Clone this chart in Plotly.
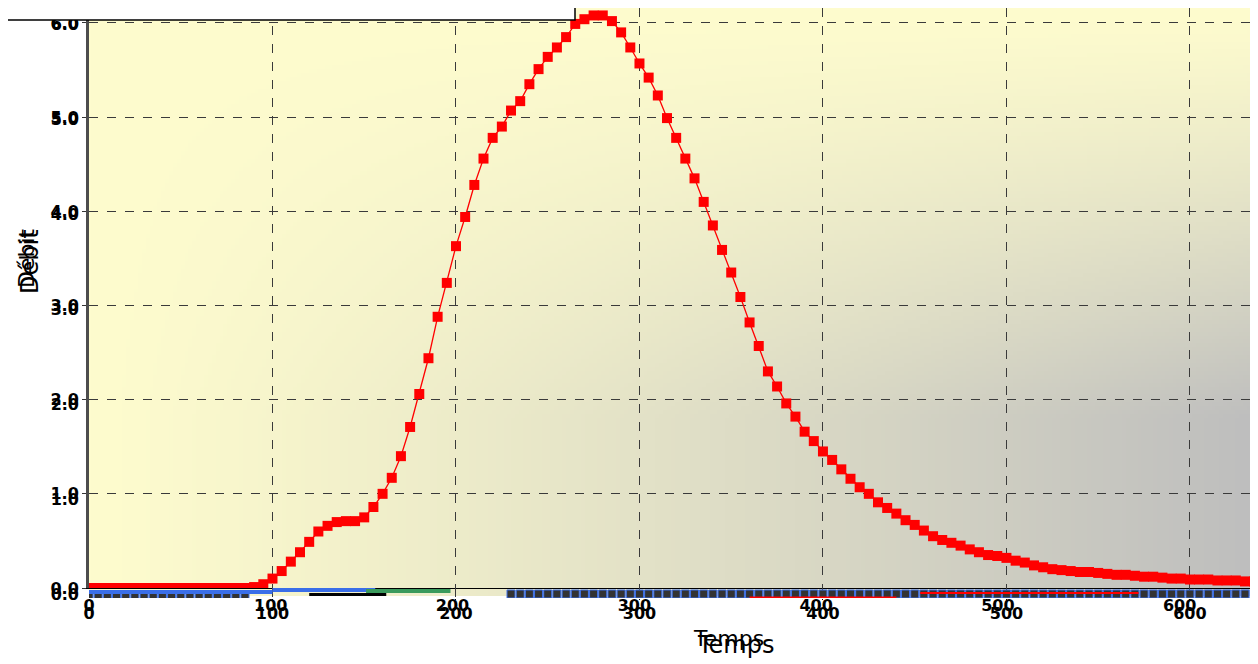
import base64, struct, zlib
import numpy as np
import plotly.graph_objects as go

# ---------------- data ----------------
temps = list(range(0, 640, 5))
debit = [0.0]*18 + [
    0.01, 0.04, 0.10, 0.18, 0.28, 0.38, 0.49, 0.60, 0.66, 0.70,
    0.71, 0.71, 0.75, 0.86, 1.00, 1.17, 1.40, 1.71, 2.06, 2.44,
    2.88, 3.24, 3.63, 3.94, 4.28, 4.56, 4.78, 4.90, 5.07, 5.17,
    5.35, 5.51, 5.64, 5.74, 5.85, 5.99, 6.04, 6.08, 6.08, 6.02,
    5.90, 5.74, 5.57, 5.42, 5.23, 4.99, 4.78, 4.56, 4.35, 4.10,
    3.85, 3.59, 3.35, 3.09, 2.82, 2.57, 2.30, 2.14, 1.96, 1.82,
    1.66, 1.56, 1.45, 1.36, 1.26, 1.16, 1.07, 1.00, 0.91, 0.85,
    0.79, 0.72, 0.67, 0.61, 0.55, 0.51, 0.48, 0.45, 0.41, 0.38,
    0.35, 0.34, 0.32, 0.29, 0.27, 0.24, 0.22, 0.20, 0.19, 0.18,
    0.17, 0.17, 0.16, 0.15, 0.14, 0.14, 0.13, 0.12, 0.12, 0.11,
    0.10, 0.10, 0.09, 0.09, 0.09, 0.08, 0.08, 0.08, 0.07, 0.07,
]
x_ticks = [0, 100, 200, 300, 400, 500, 600]
y_ticks = [0, 1, 2, 3, 4, 5, 6]

# clutter strip below the x axis (squashed series)
strip_sq_t = list(range(0, 90, 5)) + [None] + list(range(230, 640, 5))
strip_sq_v = [3]*18 + [None] + [4]*82
blue_t = [0, 100, None, 100, 156]
blue_v = [6, 6, None, 8, 8]
green_t = [151, 197]
green_v = [7, 7]
black_t = [120, 162]
black_v = [3.5, 3.5]
red_t = [360, 440, None, 453, 572]
red_v = [0.5, 0.5, None, 5, 5]

# ---------------- layout geometry ----------------
# the page adds an 8px body margin; all reference pixel positions are shifted by it
OFF = 8
W, H = 1258 - OFF, 664 - OFF
ML, MR, MT, MB = 89 - OFF, 2, 0, 56
PW, PH = W - ML - MR, H - MT - MB
def py(ref_pix):  # reference pixel y -> paper y
    return (H - MB - (ref_pix - OFF)) / PH
def px(ref_pix):
    return (ref_pix - OFF - ML) / PW

Y_PX = 94.17           # px per unit, main axis
y_top = (588 - OFF) / Y_PX
# duplicated label axis: 0 at ref y=594, 6 at ref y=24, domain ref 600..8
y3_min = -6 / 95
y3_max = (594 - OFF) / 95

# ---------------- background gradient ----------------
gw, gh = 300, 150
X, Y = np.meshgrid(np.linspace(0, 1, gw), np.linspace(0, 1, gh))
t = np.clip(X**1.15 * np.clip(Y / 0.7, 0, 1)**1.2, 0, 1)
c0 = np.array([254, 252, 206.0]); c1 = np.array([190, 190, 190.0])
img = (c0 * (1 - t)[..., None] + c1 * t[..., None]).astype(np.uint8)
raw = b"".join(b"\x00" + row.tobytes() for row in img)
def chunk(tag, data):
    return struct.pack(">I", len(data)) + tag + data + struct.pack(">I", zlib.crc32(tag + data) & 0xffffffff)
png = b"\x89PNG\r\n\x1a\n" + chunk(b"IHDR", struct.pack(">IIBBBBB", gw, gh, 8, 2, 0, 0, 0)) \
      + chunk(b"IDAT", zlib.compress(raw, 9)) + chunk(b"IEND", b"")
uri = "data:image/png;base64," + base64.b64encode(png).decode()

fig = go.Figure()
fig.add_trace(go.Scatter(x=temps, y=debit, mode="lines+markers",
                         line=dict(color="#ff0000", width=1.3),
                         marker=dict(symbol="square", size=10, color="#ff0000"),
                         showlegend=False, hoverinfo="x+y"))
# strip traces
fig.add_trace(go.Scatter(x=strip_sq_t, y=strip_sq_v, xaxis="x2", yaxis="y2", mode="markers",
                         marker=dict(symbol="square", size=8, color="#333333",
                                     line=dict(color="#3a6ee8", width=1)),
                         showlegend=False, hoverinfo="skip"))
fig.add_trace(go.Scatter(x=blue_t, y=blue_v, xaxis="x2", yaxis="y2", mode="lines",
                         line=dict(color="#3a6ee8", width=4), showlegend=False, hoverinfo="skip"))
fig.add_trace(go.Scatter(x=green_t, y=green_v, xaxis="x2", yaxis="y2", mode="lines",
                         line=dict(color="#3a9a5c", width=4), showlegend=False, hoverinfo="skip"))
fig.add_trace(go.Scatter(x=black_t, y=black_v, xaxis="x2", yaxis="y2", mode="lines",
                         line=dict(color="#000000", width=3), showlegend=False, hoverinfo="skip"))
fig.add_trace(go.Scatter(x=red_t, y=red_v, xaxis="x2", yaxis="y2", mode="lines",
                         line=dict(color="#ff0000", width=2), showlegend=False, hoverinfo="skip"))
# ghost axes for duplicated labels
fig.add_trace(go.Scatter(x=[None], y=[None], xaxis="x3", yaxis="y3", mode="markers",
                         showlegend=False, hoverinfo="skip"))

tickfont = dict(family="DejaVu Sans", size=16, color="#000000", weight="bold")
grid = dict(showgrid=True, gridcolor="#3a3a3a", gridwidth=1, griddash="dash")

fig.update_layout(
    width=W, height=H, margin=dict(l=ML, r=MR, t=MT, b=MB, autoexpand=False),
    paper_bgcolor="white", plot_bgcolor="rgba(0,0,0,0)",
    showlegend=False,
    xaxis=dict(domain=[0, 1], anchor="y", range=[0, 636], tickvals=x_ticks,
               showticklabels=False, ticks="", showline=True, linecolor="#000000",
               linewidth=1, zeroline=False, automargin=False, **grid),
    yaxis=dict(domain=[py(588), 1], anchor="x", range=[0, y_top], tickvals=y_ticks,
               tickformat=".1f", tickfont=tickfont, ticks="outside", ticklen=4,
               tickcolor="#333333", showline=True, linecolor="#4d4d4d", linewidth=3,
               zeroline=False, ticklabelstandoff=0, automargin=False, **grid),
    xaxis2=dict(domain=[0, 1], anchor="y2", range=[0, 636], tickvals=x_ticks,
                tickfont=tickfont, ticks="outside", ticklen=1, tickcolor="#000000",
                showline=False, zeroline=False, ticklabelstandoff=0, automargin=False, **grid),
    yaxis2=dict(domain=[py(598), py(588)], anchor="x2", range=[0, 10], automargin=False,
                showticklabels=False, showgrid=False, zeroline=False, ticks=""),
    xaxis3=dict(domain=[0, 1], anchor="free", position=py(594), side="bottom",
                range=[0, 642], tickvals=x_ticks, tickfont=tickfont, ticks="",
                showgrid=False, showline=False, zeroline=False, automargin=False),
    yaxis3=dict(domain=[py(600), 1], anchor="free", position=0, side="left",
                range=[y3_min, y3_max], tickvals=y_ticks, tickformat=".1f",
                tickfont=tickfont, ticks="", showgrid=False, showline=False,
                zeroline=False, ticklabelstandoff=10, automargin=False),
    images=[dict(source=uri, xref="paper", yref="paper", x=0, y=1, sizex=1,
                 sizey=1 - py(596), sizing="stretch", layer="below",
                 xanchor="left", yanchor="top")],
    shapes=[dict(type="rect", xref="paper", yref="paper", x0=px(-5), x1=px(575),
                 y0=py(20), y1=py(-5), fillcolor="white",
                 line=dict(color="#000000", width=1.5), layer="above")],
    annotations=[
        dict(text="Débit", xref="paper", yref="paper", x=px(27), y=py(258), showarrow=False,
             textangle=-90, font=dict(family="DejaVu Sans", size=22, color="#000000"),
             xanchor="center", yanchor="middle"),
        dict(text="Débit", xref="paper", yref="paper", x=px(30), y=py(262), showarrow=False,
             textangle=-90, font=dict(family="DejaVu Sans", size=24, color="#000000"),
             xanchor="center", yanchor="middle"),
        dict(text="Temps", xref="paper", yref="paper", x=px(728), y=py(638), showarrow=False,
             font=dict(family="DejaVu Sans", size=22, color="#000000"),
             xanchor="center", yanchor="middle"),
        dict(text="Temps", xref="paper", yref="paper", x=px(735), y=py(645), showarrow=False,
             font=dict(family="DejaVu Sans", size=24, color="#000000"),
             xanchor="center", yanchor="middle"),
    ],
)

fig.write_html("out.html")
